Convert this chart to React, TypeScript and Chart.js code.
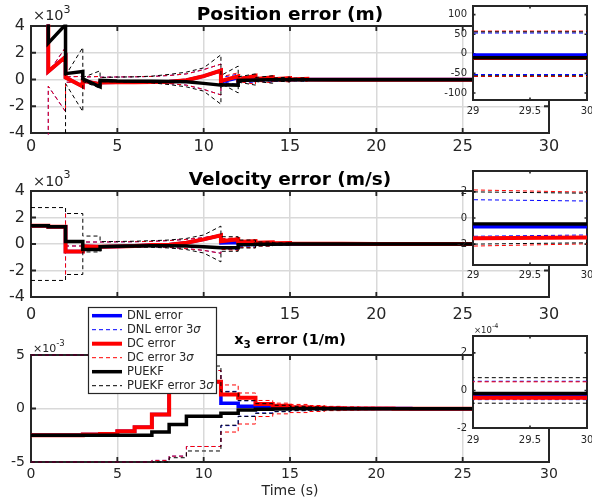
import React, { useEffect, useRef } from 'react';
import { Chart, registerables } from 'chart.js';

Chart.register(...registerables);

const W = 592;
const H = 504;
const FONT = "'DejaVu Sans', 'Noto Sans', sans-serif";
const AXIS = '#262626';
const GRID = '#d9d9d9';
const BLUE = '#0000ff';
const RED = '#ff0000';
const BLACK = '#000000';

// ---------- Position error (m): times repeat where a measurement update makes a jump ----------
const posTime = [1, 1, 2, 2, 3, 3, 4, 4, 5, 6, 7, 8, 9, 10, 11, 11, 12, 12, 13, 13, 14, 14, 15, 15, 16, 16, 18, 20, 23, 26, 29, 30];
const posDNL = [4600, 600, 1700, 150, -520, -100, -350, -220, -210, -200, -190, -170, -60, 250, 670, -180, 120, -120, 150, -60, 80, -40, 40, -20, 10, -5, -4, -3, -3, -3, -3, -3];
const posDNL3s = [9000, 500, 2400, 200, 230, 180, 230, 170, 190, 200, 230, 300, 420, 740, 1150, 150, 400, 120, 280, 100, 200, 80, 140, 70, 100, 60, 57, 55, 54, 53, 53, 53];
const posDC = [4600, 600, 1700, 150, -520, -100, -350, -220, -210, -200, -190, -170, -60, 250, 670, -100, 230, -30, 280, 20, 170, 10, 100, 0, 50, -5, -10, -12, -11, -11, -11, -11];
const posDC3s = [9000, 500, 2400, 200, 230, 180, 230, 170, 190, 200, 230, 300, 420, 740, 1150, 200, 500, 150, 350, 120, 250, 100, 180, 80, 130, 70, 64, 62, 60, 59, 58, 58];
const posPUEKF = [4600, 2720, 4100, 440, 600, 50, -540, -70, -120, -130, -140, -150, -170, -290, -420, -400, -420, -80, -40, -30, -20, -20, -15, -12, -12, -11, -10, -10, -10, -10, -10, -10];
const posPUEKF3s = [9000, 9000, 9000, 300, 2400, 150, 650, 150, 180, 200, 250, 380, 550, 870, 1850, 300, 1000, 200, 420, 150, 280, 100, 180, 80, 130, 70, 62, 60, 58, 57, 56, 56];

// ---------- Velocity error (m/s) ----------
const velTime = [0, 1, 1, 2, 2, 3, 3, 4, 4, 5, 6, 7, 8, 9, 10, 11, 11, 12, 12, 13, 13, 14, 14, 15, 15, 16, 18, 20, 23, 26, 29, 30];
const velDNL = [1380, 1380, 1300, 1300, -570, -570, -170, -200, -200, -180, -150, -80, -50, 100, 350, 650, 80, 120, 40, 60, 20, 30, 10, 10, 5, 3, 1, 0, -0.3, -0.5, -0.67, -0.67];
const velDNL3s = [null, null, null, 2300, 150, 150, 150, 150, 150, 160, 170, 200, 260, 350, 480, 700, 350, 420, 200, 230, 120, 130, 60, 65, 30, 22, 10, 5, 2.5, 1.7, 1.4, 1.3];
const velDC = [1380, 1380, 1300, 1300, -570, -570, -170, -200, -200, -180, -150, -80, -50, 100, 350, 650, 200, 350, 150, 220, 100, 130, 60, 70, 30, 20, 10, 5, 0, -1, -1.56, -1.5];
const velDC3s = [null, null, null, 2300, 150, 150, 150, 150, 150, 160, 170, 200, 260, 350, 480, 700, 400, 480, 250, 280, 150, 160, 80, 85, 40, 30, 15, 8, 4, 2.6, 2.15, 1.98];
const velPUEKF = [1380, 1380, 1300, 1300, 180, 180, -420, -420, -200, -170, -150, -130, -130, -150, -200, -280, -280, -280, -60, -40, -20, -15, -10, -8, -5, -3, -2, -1, -0.8, -0.6, -0.45, -0.45];
const velPUEKF3s = [2750, 2750, 2750, 2750, 2300, 2300, 600, 600, 180, 190, 210, 250, 300, 420, 680, 1350, 550, 550, 300, 300, 150, 150, 80, 80, 40, 30, 15, 8, 4, 2.5, 2.0, 1.9];

// ---------- x3 error (1/m): piecewise constant over each second ----------
const x3Time = [0, 1, 2, 3, 4, 5, 6, 7, 8, 9, 10, 11, 12, 13, 14, 15, 16, 17, 18, 19, 20, 21, 22, 23, 24, 25, 26, 27, 28, 29, 30];
const x3DNL = [-0.0025, -0.0025, -0.0025, -0.00242, -0.00238, -0.00212, -0.00175, -0.00056, 0.0028, 0.0029, 0.0025, 0.0005, 0.0002, 0.00012, 0.00008, 0.00005, 0.00003, 0.000015, 0.000005, 0, -0.000005, -0.00001, -0.000013, -0.000016, -0.000018, -0.00002, -0.000022, -0.000024, -0.000026, -0.000027, -0.000027];
const x3DNL3s = [0.005, 0.005, 0.005, 0.005, 0.005, 0.005, 0.005, 0.00485, 0.00445, 0.00355, 0.00355, 0.0016, 0.00072, 0.00042, 0.00028, 0.0002, 0.00015, 0.00012, 0.0001, 0.000088, 0.000078, 0.00007, 0.000064, 0.00006, 0.000057, 0.000055, 0.000053, 0.000051, 0.00005, 0.000049, 0.000048];
const x3DC = [-0.0025, -0.0025, -0.0025, -0.00242, -0.00238, -0.00212, -0.00175, -0.00056, 0.0028, 0.0029, 0.0025, 0.0013, 0.001, 0.00043, 0.00025, 0.00012, 0.00006, 0.00003, 0.00001, 0, -0.00001, -0.000015, -0.00002, -0.000025, -0.000028, -0.00003, -0.000033, -0.000035, -0.000037, -0.000039, -0.000039];
const x3DC3s = [0.005, 0.005, 0.005, 0.005, 0.005, 0.005, 0.005, 0.00485, 0.00445, 0.00355, 0.00355, 0.0022, 0.00145, 0.00075, 0.0005, 0.00038, 0.00028, 0.0002, 0.00015, 0.00012, 0.0001, 0.000085, 0.000075, 0.000067, 0.00006, 0.000055, 0.000052, 0.00005, 0.000048, 0.000046, 0.000046];
const x3PUEKF = [-0.0025, -0.0025, -0.0025, -0.0025, -0.0025, -0.0025, -0.0025, -0.0022, -0.0015, -0.00072, -0.00072, -0.00045, -0.00015, -0.00007, -0.00004, -0.00003, -0.000025, -0.000022, -0.00002, -0.000019, -0.000018, -0.000018, -0.000017, -0.000017, -0.000017, -0.000016, -0.000016, -0.000016, -0.000016, -0.000016, -0.000016];
const x3PUEKF3s = [0.005, 0.005, 0.005, 0.005, 0.005, 0.005, 0.005, 0.005, 0.0046, 0.00397, 0.00397, 0.00156, 0.00074, 0.00045, 0.0003, 0.0002, 0.00015, 0.00012, 0.0001, 0.000092, 0.000086, 0.000082, 0.000079, 0.000076, 0.000074, 0.000072, 0.000071, 0.00007, 0.000069, 0.000068, 0.000068];

// ---------- ticks & labels ----------
const timeTicks = [0, 5, 10, 15, 20, 25, 30];
const errTicks = [-4000, -2000, 0, 2000, 4000];
const x3Ticks = [-0.005, 0, 0.005];
const zoomTimeTicks = [29, 29.5, 30];
const posZoomTicks = [-100, -50, 0, 50, 100];
const velZoomTicks = [-2, 0, 2];
const x3ZoomTicks = [-0.0002, 0, 0.0002];
const seriesLabels = ['DNL error', 'DNL error 3σ', 'DC error', 'DC error 3σ', 'PUEKF', 'PUEKF error 3σ'];

const seriesStyle = [
  { color: BLUE, width: 3.5, dash: [] as number[] },
  { color: BLUE, width: 1, dash: [4, 3] },
  { color: RED, width: 4, dash: [] as number[] },
  { color: RED, width: 1, dash: [4, 3] },
  { color: BLACK, width: 3.5, dash: [] as number[] },
  { color: BLACK, width: 1, dash: [4, 3] },
];

const pts = (t: number[], v: (number | null)[]) => t.map((x, i) => ({ x, y: v[i] }));
const neg = (v: (number | null)[]) => v.map((y) => (y === null ? null : -y));

function buildSets(t: number[], series: (number | null)[][], stepped: boolean, clip?: number) {
  const out: any[] = [];
  series.forEach((vals, k) => {
    const st = seriesStyle[k];
    const base = {
      borderColor: st.color,
      borderWidth: st.width,
      borderDash: st.dash,
      pointRadius: 0,
      fill: false,
      tension: 0,
      stepped: stepped ? true : false,
      order: 6 - k,
      spanGaps: false,
      ...(clip !== undefined ? { clip } : {}),
    };
    out.push({ ...base, label: seriesLabels[k], data: pts(t, vals) });
    if (k % 2 === 1) out.push({ ...base, label: seriesLabels[k] + ' (lower)', data: pts(t, neg(vals)) });
  });
  return out;
}

type Panel = {
  area: [number, number, number, number];
  xRange: [number, number];
  xTicks: number[];
  yRange: [number, number];
  yTicks: number[];
  xFmt: (v: number) => string;
  yFmt: (v: number) => string;
  font: number;
  xPad: number;
  yPad: number;
  grid: boolean;
  inset: boolean;
  tickLen: number;
  datasets: any[];
  decorate?: (ctx: CanvasRenderingContext2D) => void;
};

function makeChart(canvas: HTMLCanvasElement, p: Panel) {
  const [L, T, R, B] = p.area;
  const YW = 30;
  const XH = 30;
  const tickFont = { family: FONT, size: p.font };
  const decor = {
    id: 'decor',
    beforeDraw(chart: any) {
      if (!p.inset) return;
      const { left, top, right, bottom } = chart.chartArea;
      const ctx = chart.ctx;
      ctx.save();
      ctx.fillStyle = '#ffffff';
      ctx.fillRect(left, top, right - left, bottom - top);
      ctx.restore();
    },
    beforeDatasetsDraw(chart: any) {
      const { left, top, right, bottom } = chart.chartArea;
      const ctx = chart.ctx;
      const xs = chart.scales.x;
      const ys = chart.scales.y;
      ctx.save();
      ctx.strokeStyle = AXIS;
      ctx.lineWidth = p.inset ? 1.6 : 1.8;
      ctx.beginPath();
      for (const v of p.xTicks) {
        const px = xs.getPixelForValue(v);
        ctx.moveTo(px, bottom);
        ctx.lineTo(px, bottom - p.tickLen);
        ctx.moveTo(px, top);
        ctx.lineTo(px, top + p.tickLen);
      }
      for (const v of p.yTicks) {
        const py = ys.getPixelForValue(v);
        ctx.moveTo(left, py);
        ctx.lineTo(left + p.tickLen, py);
        ctx.moveTo(right, py);
        ctx.lineTo(right - p.tickLen, py);
      }
      ctx.stroke();
      ctx.lineWidth = 2;
      ctx.strokeRect(left, top, right - left, bottom - top);
      ctx.restore();
    },
    afterDraw(chart: any) {
      if (!p.decorate) return;
      const ctx = chart.ctx;
      ctx.save();
      p.decorate(ctx);
      ctx.restore();
    },
  };
  return new Chart(canvas, {
    type: 'line',
    data: { datasets: p.datasets },
    options: {
      responsive: false,
      maintainAspectRatio: false,
      animation: false,
      events: [],
      layout: { padding: { left: L - YW, top: T, right: W - R, bottom: H - B - XH } },
      plugins: { legend: { display: false }, tooltip: { enabled: false }, title: { display: false } },
      scales: {
        x: {
          type: 'linear',
          min: p.xRange[0],
          max: p.xRange[1],
          afterBuildTicks: (s: any) => {
            s.ticks = p.xTicks.map((v) => ({ value: v }));
          },
          ticks: { callback: (v: any) => p.xFmt(Number(v)), font: tickFont, color: AXIS, padding: p.xPad, maxRotation: 0, autoSkip: false },
          grid: { display: p.grid, color: GRID, lineWidth: 1.5, drawTicks: false },
          border: { display: false },
          afterFit: (s: any) => {
            s.height = XH;
            s.paddingLeft = 0;
            s.paddingRight = 0;
          },
        },
        y: {
          type: 'linear',
          min: p.yRange[0],
          max: p.yRange[1],
          afterBuildTicks: (s: any) => {
            s.ticks = p.yTicks.map((v) => ({ value: v }));
          },
          ticks: { callback: (v: any) => p.yFmt(Number(v)), font: tickFont, color: AXIS, padding: p.yPad, autoSkip: false },
          grid: { display: p.grid, color: GRID, lineWidth: 1.5, drawTicks: false },
          border: { display: false },
          afterFit: (s: any) => {
            s.width = YW;
            s.paddingTop = 0;
            s.paddingBottom = 0;
          },
        },
      },
    } as any,
    plugins: [decor],
  });
}

function drawExp(ctx: CanvasRenderingContext2D, x: number, y: number, size: number, sup: string, supSize: number, raise: number) {
  ctx.fillStyle = AXIS;
  ctx.textBaseline = 'alphabetic';
  ctx.textAlign = 'left';
  ctx.font = `${size}px ${FONT}`;
  ctx.fillText('×10', x, y);
  const w = ctx.measureText('×10').width;
  ctx.font = `${supSize}px ${FONT}`;
  ctx.fillText(sup, x + w, y - raise);
}

function drawTitle(ctx: CanvasRenderingContext2D, text: string, cx: number, y: number, size: number) {
  ctx.fillStyle = '#000000';
  ctx.textBaseline = 'alphabetic';
  ctx.textAlign = 'center';
  ctx.font = `bold ${size}px ${FONT}`;
  ctx.fillText(text, cx, y);
}

function drawX3Title(ctx: CanvasRenderingContext2D, cx: number, y: number, size: number) {
  ctx.fillStyle = '#000000';
  ctx.textBaseline = 'alphabetic';
  ctx.textAlign = 'left';
  const big = `bold ${size}px ${FONT}`;
  const small = `bold ${size * 0.72}px ${FONT}`;
  const rest = ' error (1/m)';
  ctx.font = big;
  const wx = ctx.measureText('x').width;
  const wr = ctx.measureText(rest).width;
  ctx.font = small;
  const w3 = ctx.measureText('3').width;
  let x = cx - (wx + w3 + wr) / 2;
  ctx.font = big;
  ctx.fillText('x', x, y);
  x += wx;
  ctx.font = small;
  ctx.fillText('3', x, y + size * 0.33);
  x += w3;
  ctx.font = big;
  ctx.fillText(rest, x, y);
}

function drawLegend(ctx: CanvasRenderingContext2D) {
  const lx = 88;
  const ly = 307;
  const lw = 129;
  const lh = 87;
  ctx.fillStyle = '#ffffff';
  ctx.fillRect(lx, ly, lw, lh);
  ctx.strokeStyle = AXIS;
  ctx.lineWidth = 1.2;
  ctx.setLineDash([]);
  ctx.strokeRect(lx + 0.5, ly + 0.5, lw - 1, lh - 1);
  const size = 11.5;
  seriesLabels.forEach((label, i) => {
    const y = 315.7 + i * 14;
    const st = seriesStyle[i];
    ctx.save();
    ctx.strokeStyle = st.color;
    ctx.lineWidth = st.width;
    ctx.setLineDash(st.dash);
    ctx.beginPath();
    ctx.moveTo(92, y);
    ctx.lineTo(122, y);
    ctx.stroke();
    ctx.restore();
    ctx.fillStyle = AXIS;
    ctx.textBaseline = 'middle';
    ctx.textAlign = 'left';
    const s = label.indexOf('σ');
    ctx.font = `${size}px ${FONT}`;
    if (s < 0) {
      ctx.fillText(label, 127, y);
    } else {
      const pre = label.slice(0, s);
      ctx.fillText(pre, 127, y);
      const w = ctx.measureText(pre).width;
      ctx.font = `italic ${size}px ${FONT}`;
      ctx.fillText('σ', 127 + w, y);
    }
  });
}

const kFmt = (v: number) => String(Math.round(v / 1000));
const plainFmt = (v: number) => String(v);

export default function App() {
  const refs = [useRef<HTMLCanvasElement>(null), useRef<HTMLCanvasElement>(null), useRef<HTMLCanvasElement>(null), useRef<HTMLCanvasElement>(null), useRef<HTMLCanvasElement>(null), useRef<HTMLCanvasElement>(null)];

  useEffect(() => {
    const posSeries = [posDNL, posDNL3s, posDC, posDC3s, posPUEKF, posPUEKF3s];
    const velSeries = [velDNL, velDNL3s, velDC, velDC3s, velPUEKF, velPUEKF3s];
    const x3Series = [x3DNL, x3DNL3s, x3DC, x3DC3s, x3PUEKF, x3PUEKF3s];

    const panels: Panel[] = [
      {
        area: [31, 26, 549, 133], xRange: [0, 30], xTicks: timeTicks, yRange: [-4000, 4000], yTicks: errTicks,
        xFmt: plainFmt, yFmt: kFmt, font: 16, xPad: 4.4, yPad: 6, grid: true, inset: false, tickLen: 5,
        datasets: buildSets(posTime, posSeries, false, 1.5),
        decorate: (ctx) => {
          drawTitle(ctx, 'Position error (m)', 290, 19.5, 18.5);
          drawExp(ctx, 33, 20, 14.5, '3', 11, 7);
        },
      },
      {
        area: [31, 191, 549, 297], xRange: [0, 30], xTicks: timeTicks, yRange: [-4000, 4000], yTicks: errTicks,
        xFmt: plainFmt, yFmt: kFmt, font: 16, xPad: 7.9, yPad: 6, grid: true, inset: false, tickLen: 5,
        datasets: buildSets(velTime, velSeries, false, 1.5),
        decorate: (ctx) => {
          drawTitle(ctx, 'Velocity error (m/s)', 290, 185, 18.5);
          drawExp(ctx, 33, 186, 14.5, '3', 11, 8);
        },
      },
      {
        area: [31, 355, 549, 462], xRange: [0, 30], xTicks: timeTicks, yRange: [-0.005, 0.005], yTicks: x3Ticks,
        xFmt: plainFmt, yFmt: (v) => String(Math.round(v * 1000)), font: 14, xPad: 4.1, yPad: 6, grid: true, inset: false, tickLen: 5,
        datasets: buildSets(x3Time, x3Series, true, 2),
        decorate: (ctx) => {
          drawX3Title(ctx, 290, 343.5, 14.5);
          drawExp(ctx, 33, 351.5, 11, '-3', 8.5, 5.5);
          ctx.fillStyle = AXIS;
          ctx.textAlign = 'center';
          ctx.textBaseline = 'alphabetic';
          ctx.font = `14px ${FONT}`;
          ctx.fillText('Time (s)', 290, 495);
          drawLegend(ctx);
        },
      },
      {
        area: [473, 6, 587, 100], xRange: [29, 30], xTicks: zoomTimeTicks, yRange: [-118, 122], yTicks: posZoomTicks,
        xFmt: plainFmt, yFmt: plainFmt, font: 10, xPad: 5.7, yPad: 6, grid: false, inset: true, tickLen: 2.5,
        datasets: buildSets(posTime, posSeries, false),
      },
      {
        area: [473, 171, 587, 265], xRange: [29, 30], xTicks: zoomTimeTicks, yRange: [-3.6, 3.6], yTicks: velZoomTicks,
        xFmt: plainFmt, yFmt: plainFmt, font: 10, xPad: 4.5, yPad: 6, grid: false, inset: true, tickLen: 2.5,
        datasets: buildSets(velTime, velSeries, false),
      },
      {
        area: [473, 336, 587, 428], xRange: [29, 30], xTicks: zoomTimeTicks, yRange: [-0.0002, 0.00029], yTicks: x3ZoomTicks,
        xFmt: plainFmt, yFmt: (v) => String(Math.round(v * 1e4)), font: 10, xPad: 6.3, yPad: 6, grid: false, inset: true, tickLen: 2.5,
        datasets: buildSets(x3Time, x3Series, true),
        decorate: (ctx) => {
          drawExp(ctx, 474, 332.5, 8.5, '-4', 6.5, 5);
        },
      },
    ];

    const charts = panels.map((p, i) => makeChart(refs[i].current as HTMLCanvasElement, p));
    return () => charts.forEach((c) => c.destroy());
  }, []);

  return (
    <div style={{ position: 'fixed', left: 0, top: 0, width: W, height: H, background: '#ffffff', overflow: 'hidden' }}>
      {refs.map((r, i) => (
        <canvas key={i} ref={r} width={W} height={H} style={{ position: 'absolute', left: 0, top: 0, width: W, height: H }} />
      ))}
    </div>
  );
}
